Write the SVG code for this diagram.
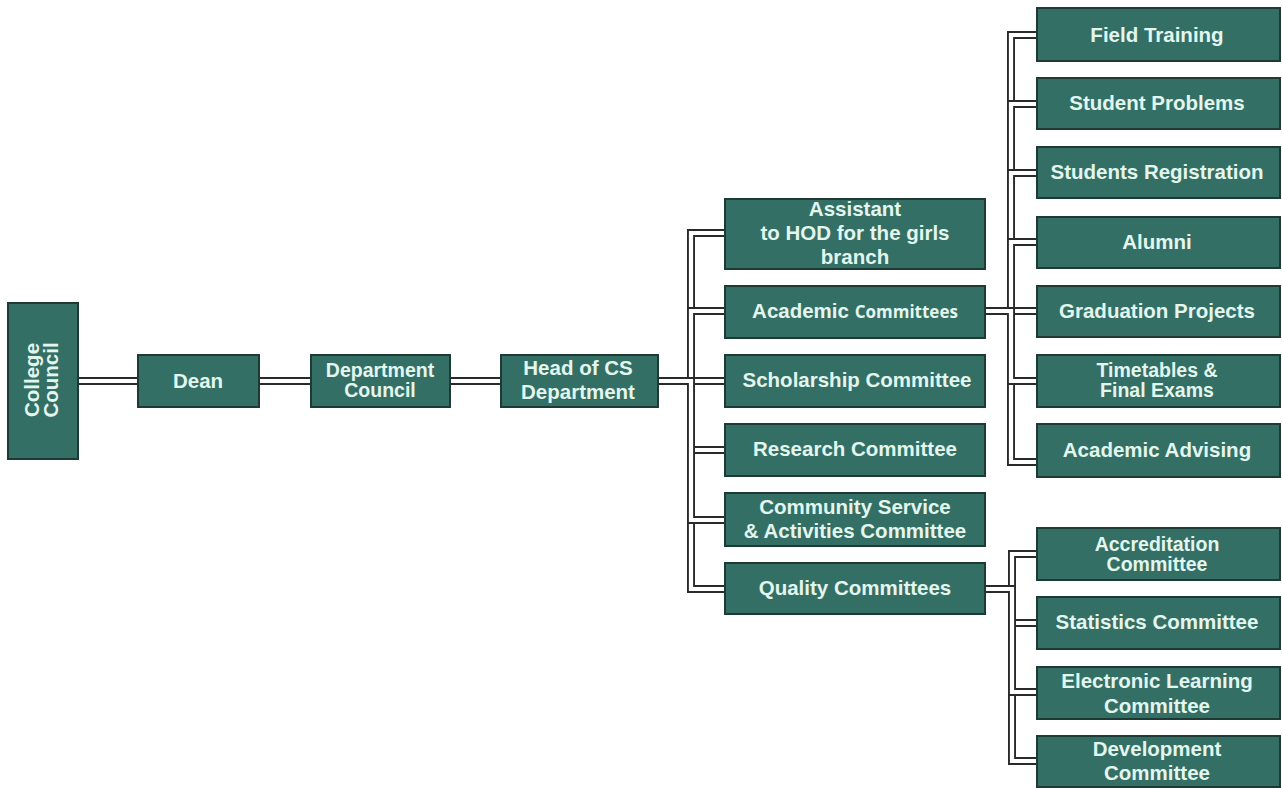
<svg xmlns="http://www.w3.org/2000/svg" xmlns:xlink="http://www.w3.org/1999/xlink" width="1282" height="788" viewBox="0 0 1282 788">
  <style>
    .box { fill: #346f66; stroke: #1d3a35; stroke-width: 2; }
    .lbl { font-family: "Liberation Sans", Arial, sans-serif; font-weight: bold; font-size: 20.5px; fill: #e2f6ee; text-anchor: middle; }
    .tight { font-size: 19.5px; }
    .alt { font-family: "Open Sans", "Liberation Sans", sans-serif; font-size: 17px; }
    .wire-o { fill: none; stroke: #2a2a2a; stroke-width: 8; stroke-linejoin: miter; }
    .wire-i { fill: none; stroke: #ffffff; stroke-width: 4.2; stroke-linejoin: miter; }
  </style>
  <defs>
    <!-- main chain -->
    <path id="w1" d="M78 381 H138"/>
    <path id="w2" d="M259 381 H311"/>
    <path id="w3" d="M450 381 H501"/>
    <!-- head of department to committees -->
    <path id="h1" d="M658 381 H691 V233 H725"/>
    <path id="h6" d="M658 381 H691 V589 H725"/>
    <path id="h2" d="M658 381 H691 V311 H725"/>
    <path id="h3" d="M658 381 H725"/>
    <path id="h4" d="M658 381 H691 V450 H725"/>
    <path id="h5" d="M658 381 H691 V520 H725"/>
    <!-- academic committees -->
    <path id="a1" d="M985 311 H1011 V35 H1037"/>
    <path id="a7" d="M985 311 H1011 V462 H1037"/>
    <path id="a2" d="M985 311 H1011 V104 H1037"/>
    <path id="a3" d="M985 311 H1011 V173 H1037"/>
    <path id="a4" d="M985 311 H1011 V242 H1037"/>
    <path id="a5" d="M985 311 H1037"/>
    <path id="a6" d="M985 311 H1011 V381 H1037"/>
    <!-- quality committees -->
    <path id="q1" d="M985 589 H1012 V554 H1037"/>
    <path id="q4" d="M985 589 H1012 V761 H1037"/>
    <path id="q2" d="M985 589 H1012 V623 H1037"/>
    <path id="q3" d="M985 589 H1012 V692 H1037"/>
  </defs>

  <rect width="1282" height="788" fill="#ffffff"/>

  <g id="connectors">
    <use xlink:href="#w1" class="wire-o"/><use xlink:href="#w1" class="wire-i"/>
    <use xlink:href="#w2" class="wire-o"/><use xlink:href="#w2" class="wire-i"/>
    <use xlink:href="#w3" class="wire-o"/><use xlink:href="#w3" class="wire-i"/>
    <use xlink:href="#h1" class="wire-o"/><use xlink:href="#h1" class="wire-i"/>
    <use xlink:href="#h6" class="wire-o"/><use xlink:href="#h6" class="wire-i"/>
    <use xlink:href="#h2" class="wire-o"/><use xlink:href="#h2" class="wire-i"/>
    <use xlink:href="#h3" class="wire-o"/><use xlink:href="#h3" class="wire-i"/>
    <use xlink:href="#h4" class="wire-o"/><use xlink:href="#h4" class="wire-i"/>
    <use xlink:href="#h5" class="wire-o"/><use xlink:href="#h5" class="wire-i"/>
    <use xlink:href="#a1" class="wire-o"/><use xlink:href="#a1" class="wire-i"/>
    <use xlink:href="#a7" class="wire-o"/><use xlink:href="#a7" class="wire-i"/>
    <use xlink:href="#a2" class="wire-o"/><use xlink:href="#a2" class="wire-i"/>
    <use xlink:href="#a3" class="wire-o"/><use xlink:href="#a3" class="wire-i"/>
    <use xlink:href="#a4" class="wire-o"/><use xlink:href="#a4" class="wire-i"/>
    <use xlink:href="#a5" class="wire-o"/><use xlink:href="#a5" class="wire-i"/>
    <use xlink:href="#a6" class="wire-o"/><use xlink:href="#a6" class="wire-i"/>
    <use xlink:href="#q1" class="wire-o"/><use xlink:href="#q1" class="wire-i"/>
    <use xlink:href="#q4" class="wire-o"/><use xlink:href="#q4" class="wire-i"/>
    <use xlink:href="#q2" class="wire-o"/><use xlink:href="#q2" class="wire-i"/>
    <use xlink:href="#q3" class="wire-o"/><use xlink:href="#q3" class="wire-i"/>
  </g>

  <!-- chain of authority -->
  <g id="college-council">
    <rect class="box" x="8" y="303" width="70" height="156"/>
    <text class="lbl" transform="translate(42 380) rotate(-90)"><tspan x="0" y="-3">College</tspan><tspan x="0" y="16">Council</tspan></text>
  </g>
  <g id="dean">
    <rect class="box" x="138" y="355" width="121" height="52"/>
    <text class="lbl" x="198" y="388">Dean</text>
  </g>
  <g id="department-council">
    <rect class="box" x="311" y="355" width="139" height="52"/>
    <text class="lbl tight"><tspan x="380" y="377">Department</tspan><tspan x="380" y="397">Council</tspan></text>
  </g>
  <g id="head-of-department">
    <rect class="box" x="501" y="355" width="157" height="52"/>
    <text class="lbl"><tspan x="578" y="375">Head of CS</tspan><tspan x="578" y="399">Department</tspan></text>
  </g>

  <!-- committees -->
  <g id="assistant-hod">
    <rect class="box" x="725" y="199" width="260" height="70"/>
    <text class="lbl"><tspan x="855" y="216">Assistant</tspan><tspan x="855" y="240">to HOD for the girls</tspan><tspan x="855" y="264">branch</tspan></text>
  </g>
  <g id="academic-committees">
    <rect class="box" x="725" y="286" width="260" height="52"/>
    <text class="lbl" x="855" y="318">Academic <tspan class="alt">Committees</tspan></text>
  </g>
  <g id="scholarship-committee">
    <rect class="box" x="725" y="355" width="260" height="52"/>
    <text class="lbl" x="857" y="387">Scholarship Committee</text>
  </g>
  <g id="research-committee">
    <rect class="box" x="725" y="424" width="260" height="52"/>
    <text class="lbl" x="855" y="456">Research Committee</text>
  </g>
  <g id="community-service">
    <rect class="box" x="725" y="493" width="260" height="53"/>
    <text class="lbl"><tspan x="855" y="514">Community Service</tspan><tspan x="855" y="538">&amp; Activities Committee</tspan></text>
  </g>
  <g id="quality-committees">
    <rect class="box" x="725" y="563" width="260" height="51"/>
    <text class="lbl" x="855" y="595">Quality Committees</text>
  </g>

  <!-- academic sub-committees -->
  <g id="field-training">
    <rect class="box" x="1037" y="8" width="243" height="53"/>
    <text class="lbl" x="1157" y="42">Field Training</text>
  </g>
  <g id="student-problems">
    <rect class="box" x="1037" y="78" width="243" height="51"/>
    <text class="lbl" x="1157" y="110">Student Problems</text>
  </g>
  <g id="students-registration">
    <rect class="box" x="1037" y="147" width="243" height="51"/>
    <text class="lbl" x="1157" y="179">Students Registration</text>
  </g>
  <g id="alumni">
    <rect class="box" x="1037" y="217" width="243" height="51"/>
    <text class="lbl" x="1157" y="249">Alumni</text>
  </g>
  <g id="graduation-projects">
    <rect class="box" x="1037" y="286" width="243" height="51"/>
    <text class="lbl" x="1157" y="318">Graduation Projects</text>
  </g>
  <g id="timetables">
    <rect class="box" x="1037" y="355" width="243" height="52"/>
    <text class="lbl tight"><tspan x="1157" y="377">Timetables &amp;</tspan><tspan x="1157" y="397">Final Exams</tspan></text>
  </g>
  <g id="academic-advising">
    <rect class="box" x="1037" y="424" width="243" height="53"/>
    <text class="lbl" x="1157" y="457">Academic Advising</text>
  </g>

  <!-- quality sub-committees -->
  <g id="accreditation">
    <rect class="box" x="1037" y="528" width="243" height="52"/>
    <text class="lbl tight"><tspan x="1157" y="551">Accreditation</tspan><tspan x="1157" y="571">Committee</tspan></text>
  </g>
  <g id="statistics">
    <rect class="box" x="1037" y="597" width="243" height="52"/>
    <text class="lbl" x="1157" y="629">Statistics Committee</text>
  </g>
  <g id="electronic-learning">
    <rect class="box" x="1037" y="667" width="243" height="52"/>
    <text class="lbl"><tspan x="1157" y="688">Electronic Learning</tspan><tspan x="1157" y="713">Committee</tspan></text>
  </g>
  <g id="development">
    <rect class="box" x="1037" y="736" width="243" height="51"/>
    <text class="lbl"><tspan x="1157" y="756">Development</tspan><tspan x="1157" y="780">Committee</tspan></text>
  </g>
</svg>
